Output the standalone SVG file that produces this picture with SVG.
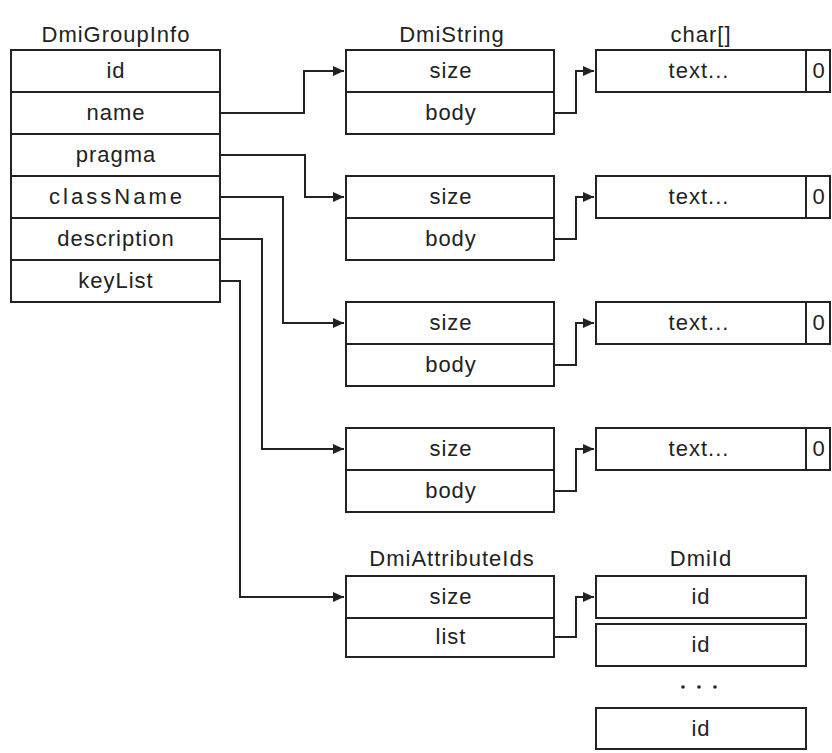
<svg xmlns="http://www.w3.org/2000/svg" width="832" height="753" viewBox="0 0 832 753">
  <style>
    .box { fill: #ffffff; stroke: #222222; stroke-width: 2; }
    .sep { stroke: #222222; stroke-width: 2; }
    .wire { fill: none; stroke: #222222; stroke-width: 2; }
    .arrow { marker-end: url(#head); }
    text { font-family: "Liberation Sans", Arial, sans-serif; font-size: 22px; fill: #222222; text-anchor: middle; letter-spacing: 1px; }
  </style>
  <defs>
    <marker id="head" markerUnits="userSpaceOnUse" markerWidth="12" markerHeight="11" refX="11" refY="5.5" orient="auto">
      <path d="M0,0.5 L11,5.5 L0,10.5 z" fill="#222222"/>
    </marker>
  </defs>
  <rect width="832" height="753" fill="#ffffff"/>

  <!-- DmiGroupInfo record -->
  <g id="dmiGroupInfo">
    <text x="116" y="42">DmiGroupInfo</text>
    <rect class="box" x="11" y="50" width="209" height="252"/>
    <line class="sep" x1="11" y1="92" x2="220" y2="92"/>
    <line class="sep" x1="11" y1="134" x2="220" y2="134"/>
    <line class="sep" x1="11" y1="176" x2="220" y2="176"/>
    <line class="sep" x1="11" y1="218" x2="220" y2="218"/>
    <line class="sep" x1="11" y1="260" x2="220" y2="260"/>
    <text x="116" y="78">id</text>
    <text x="116" y="120">name</text>
    <text x="116" y="162">pragma</text>
    <text x="116" y="204" textLength="134" lengthAdjust="spacing">className</text>
    <text x="116" y="246">description</text>
    <text x="116" y="288">keyList</text>
  </g>

  <!-- DmiString records -->
  <g id="dmiString1">
    <text x="452" y="42">DmiString</text>
    <rect class="box" x="346" y="50" width="208" height="84"/>
    <line class="sep" x1="346" y1="92" x2="554" y2="92"/>
    <text x="451" y="78">size</text>
    <text x="451" y="120">body</text>
  </g>
  <g id="dmiString2">
    <rect class="box" x="346" y="176" width="208" height="84"/>
    <line class="sep" x1="346" y1="218" x2="554" y2="218"/>
    <text x="451" y="204">size</text>
    <text x="451" y="246">body</text>
  </g>
  <g id="dmiString3">
    <rect class="box" x="346" y="302" width="208" height="84"/>
    <line class="sep" x1="346" y1="344" x2="554" y2="344"/>
    <text x="451" y="330">size</text>
    <text x="451" y="372">body</text>
  </g>
  <g id="dmiString4">
    <rect class="box" x="346" y="428" width="208" height="84"/>
    <line class="sep" x1="346" y1="470" x2="554" y2="470"/>
    <text x="451" y="456">size</text>
    <text x="451" y="498">body</text>
  </g>

  <!-- char[] buffers -->
  <g id="chars1">
    <text x="701" y="42">char[]</text>
    <rect class="box" x="596" y="50" width="234" height="42"/>
    <line class="sep" x1="806" y1="50" x2="806" y2="92"/>
    <text x="699" y="78">text...</text>
    <text x="819" y="78" letter-spacing="0">0</text>
  </g>
  <g id="chars2">
    <rect class="box" x="596" y="176" width="234" height="42"/>
    <line class="sep" x1="806" y1="176" x2="806" y2="218"/>
    <text x="699" y="204">text...</text>
    <text x="819" y="204" letter-spacing="0">0</text>
  </g>
  <g id="chars3">
    <rect class="box" x="596" y="302" width="234" height="42"/>
    <line class="sep" x1="806" y1="302" x2="806" y2="344"/>
    <text x="699" y="330">text...</text>
    <text x="819" y="330" letter-spacing="0">0</text>
  </g>
  <g id="chars4">
    <rect class="box" x="596" y="428" width="234" height="42"/>
    <line class="sep" x1="806" y1="428" x2="806" y2="470"/>
    <text x="699" y="456">text...</text>
    <text x="819" y="456" letter-spacing="0">0</text>
  </g>

  <!-- DmiAttributeIds record -->
  <g id="dmiAttributeIds">
    <text x="452" y="566">DmiAttributeIds</text>
    <rect class="box" x="346" y="576" width="208" height="81"/>
    <line class="sep" x1="346" y1="618" x2="554" y2="618"/>
    <text x="451" y="604">size</text>
    <text x="451" y="644">list</text>
  </g>

  <!-- DmiId array -->
  <g id="dmiIds">
    <text x="701" y="566">DmiId</text>
    <rect class="box" x="596" y="576" width="210" height="42"/>
    <text x="701" y="604">id</text>
    <rect class="box" x="596" y="624" width="210" height="42"/>
    <text x="701" y="652">id</text>
    <circle cx="683" cy="687" r="1.8" fill="#222222"/>
    <circle cx="699" cy="687" r="1.8" fill="#222222"/>
    <circle cx="715" cy="687" r="1.8" fill="#222222"/>
    <rect class="box" x="596" y="708" width="210" height="41"/>
    <text x="701" y="736">id</text>
  </g>

  <!-- pointer connectors -->
  <g id="connectors">
    <path class="wire arrow" d="M220,113 H304 V71 H344"/>
    <path class="wire arrow" d="M220,155 H305 V197 H344"/>
    <path class="wire arrow" d="M220,197 H283 V323 H344"/>
    <path class="wire arrow" d="M220,239 H262 V449 H344"/>
    <path class="wire arrow" d="M220,281 H240 V597 H344"/>
    <path class="wire arrow" d="M554,113 H576 V71 H594"/>
    <path class="wire arrow" d="M554,239 H576 V197 H594"/>
    <path class="wire arrow" d="M554,365 H576 V323 H594"/>
    <path class="wire arrow" d="M554,491 H576 V449 H594"/>
    <path class="wire arrow" d="M554,637 H576 V597 H594"/>
  </g>
</svg>
